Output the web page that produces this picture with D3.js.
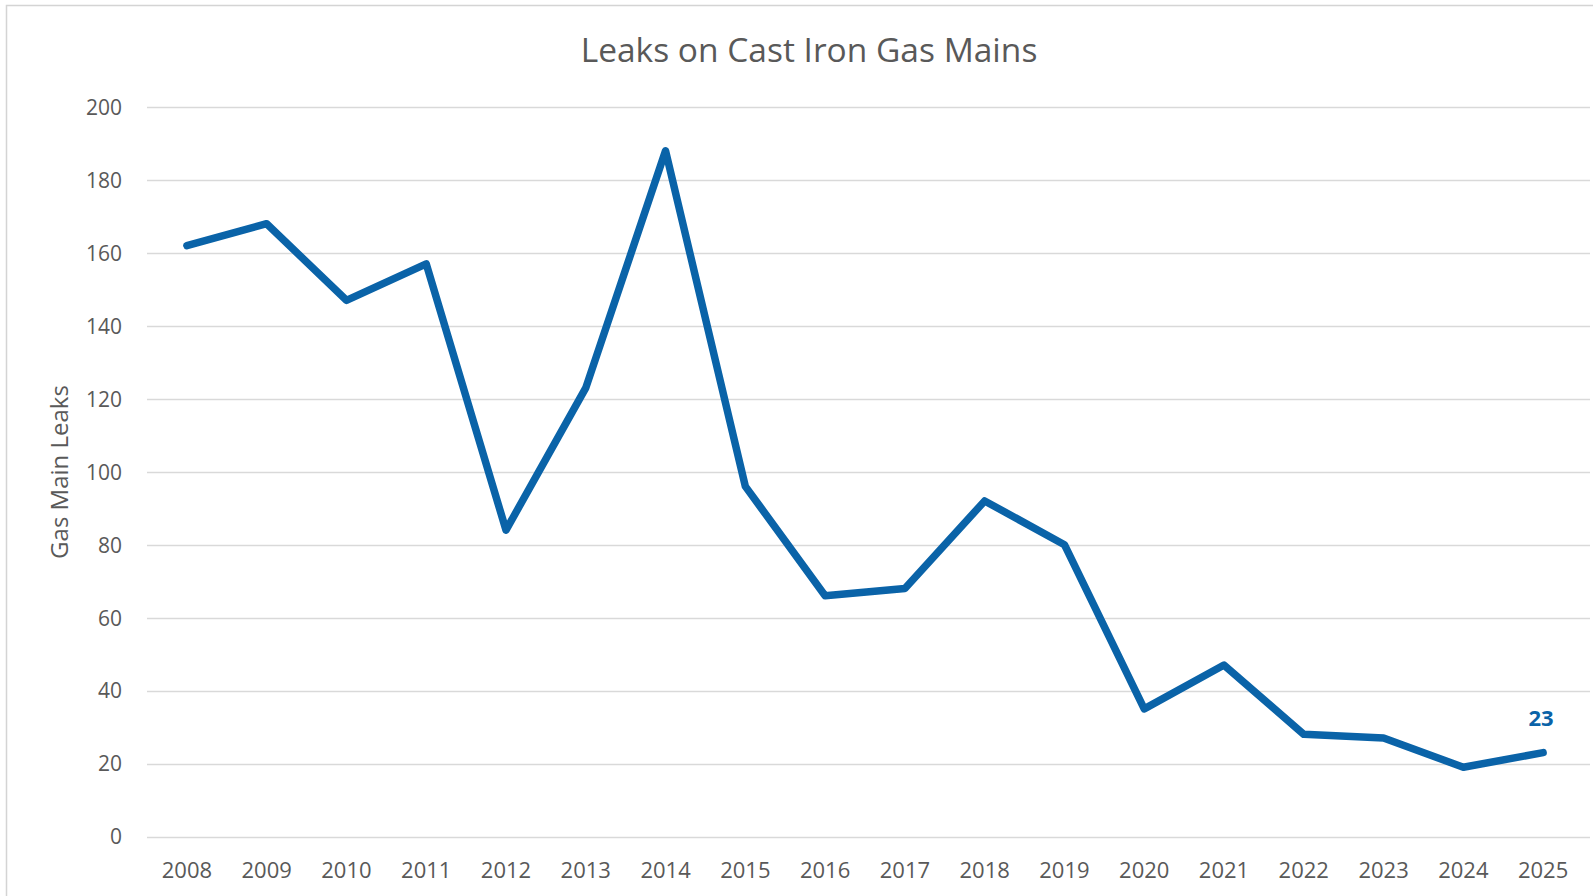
<!DOCTYPE html>
<html>
<head>
<meta charset="utf-8">
<script src="https://cdn.jsdelivr.net/npm/d3@7"></script>
<style>
	body { margin: 0; background: #fff; }
	svg { display: block; }
</style>
</head>
<body>
<div id="chart"></div>
<script>
// chart data
var years = ["2008", "2009", "2010", "2011", "2012", "2013", "2014", "2015", "2016",
	"2017", "2018", "2019", "2020", "2021", "2022", "2023", "2024", "2025"];
var leaks = [162, 168, 147, 157, 84, 123, 188, 96, 66, 68, 92, 80, 35, 47, 28, 27, 19, 23];
var yTicks = [0, 20, 40, 60, 80, 100, 120, 140, 160, 180, 200];

var width = 1593;
var height = 896;
var margin = {top: 107, right: 10, bottom: 59, left: 147};
var font = "'Open Sans', 'Liberation Sans', sans-serif";
var textColor = "#595959";
var lineColor = "#0a63a8";

const svg = d3.select("#chart").append("svg")
	.attr("width", width)
	.attr("height", height);

// outer frame (only top / left edge visible in the reference)
svg.append("rect")
	.attr("x", 6.5)
	.attr("y", 5.5)
	.attr("width", width + 20)
	.attr("height", height + 20)
	.attr("fill", "#fff")
	.attr("stroke", "#d4d4d4")
	.attr("stroke-width", 1.5);

const x = d3.scaleBand()
	.domain(years)
	.range([margin.left, width - margin.right]);

const y = d3.scaleLinear()
	.domain([0, 200])
	.range([height - margin.bottom - 0.5, margin.top]);

// gridlines
svg.append("g")
	.attr("class", "grid")
	.selectAll("line")
	.data(yTicks)
	.enter().append("line")
	.attr("x1", margin.left)
	.attr("x2", width - 3)
	.attr("y1", d => Math.round(y(d)) + 0.5)
	.attr("y2", d => Math.round(y(d)) + 0.5)
	.attr("stroke", "#d9d9d9")
	.attr("stroke-width", 1.3);

// y axis labels
const yAxis = svg.append("g")
	.attr("transform", "translate(" + (margin.left - 25) + ",0)")
	.call(d3.axisLeft(y).tickValues(yTicks).tickSize(0).tickPadding(0));
yAxis.select(".domain").remove();
yAxis.selectAll("text")
	.style("font-family", font)
	.style("font-size", "21px")
	.attr("fill", textColor)
	.attr("dy", "0.35em");

// x axis labels
const xAxis = svg.append("g")
	.attr("transform", "translate(0," + (height - margin.bottom) + ")")
	.call(d3.axisBottom(x).tickSize(0).tickPadding(25));
xAxis.select(".domain").remove();
xAxis.selectAll("text")
	.style("font-family", font)
	.style("font-size", "22px")
	.attr("fill", textColor);

// the line
const line = d3.line()
	.x((d, i) => x(years[i]) + x.bandwidth() / 2)
	.y(d => y(d));

svg.append("path")
	.datum(leaks)
	.attr("d", line)
	.attr("fill", "none")
	.attr("stroke", lineColor)
	.attr("stroke-width", 7.5)
	.attr("stroke-linejoin", "round")
	.attr("stroke-linecap", "round");

// data label on last point
var last = leaks.length - 1;
svg.append("text")
	.attr("x", x(years[last]) + x.bandwidth() / 2 - 2)
	.attr("y", y(leaks[last]) - 27)
	.attr("text-anchor", "middle")
	.style("font-family", font)
	.style("font-size", "22px")
	.style("font-weight", "bold")
	.attr("fill", lineColor)
	.text(leaks[last]);

// title
svg.append("text")
	.attr("x", 809)
	.attr("y", 62)
	.attr("text-anchor", "middle")
	.style("font-family", font)
	.style("font-size", "33.5px")
	.attr("fill", textColor)
	.text("Leaks on Cast Iron Gas Mains");

// y axis title
svg.append("text")
	.attr("transform", "translate(68," + 472 + ") rotate(-90)")
	.attr("text-anchor", "middle")
	.style("font-family", font)
	.style("font-size", "24px")
	.attr("fill", textColor)
	.text("Gas Main Leaks");
</script>
</body>
</html>
